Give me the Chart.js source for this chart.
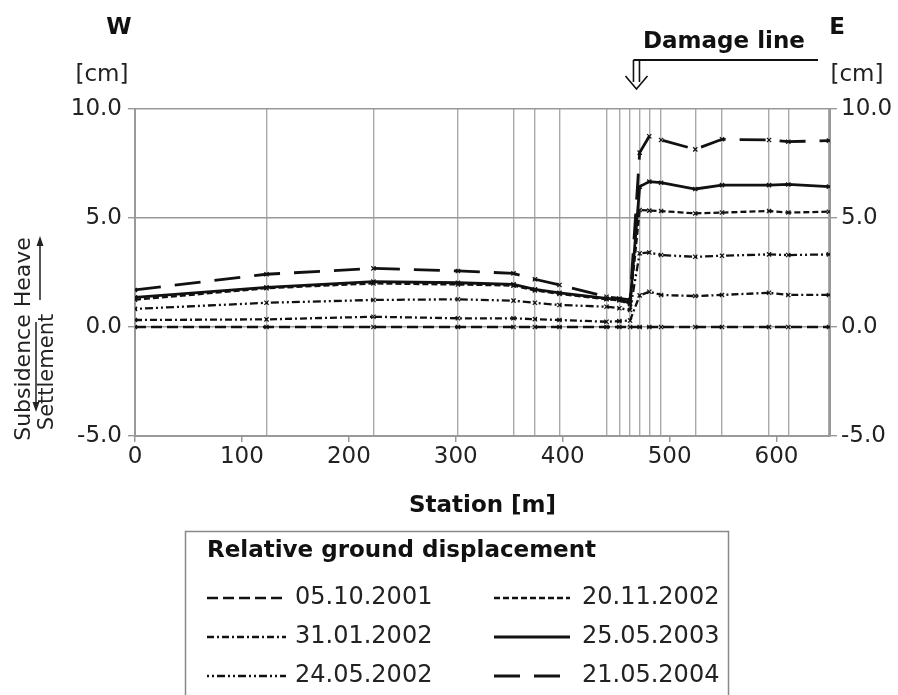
<!DOCTYPE html>
<html>
<head>
<meta charset="utf-8">
<script src="https://cdn.jsdelivr.net/npm/chart.js@4.4.1/dist/chart.umd.min.js"></script>
<style>
  html, body { margin: 0; padding: 0; background: #fff; }
</style>
</head>
<body>
<canvas id="Chart" width="898" height="695"></canvas>
<script>
// measuring stations [m]
const stations = [0, 123, 223, 302, 354, 374, 397, 441, 453, 463, 472, 481, 492, 524, 549, 593, 611, 649];
const dates = ["05.10.2001", "31.01.2002", "24.05.2002", "20.11.2002", "25.05.2003", "21.05.2004"];
const xTickValues = [0, 100, 200, 300, 400, 500, 600];
const yTickValues = [-5, 0, 5, 10];

// relative displacement [cm]
const d20011005 = [0, 0, 0, 0, 0, 0, 0, 0, 0, 0, 0, 0, 0, 0, 0, 0, 0, 0];
const d20020131 = [0.32, 0.35, 0.47, 0.40, 0.40, 0.36, 0.32, 0.24, 0.27, 0.30, 1.45, 1.62, 1.47, 1.42, 1.47, 1.57, 1.47, 1.47];
const d20020524 = [0.83, 1.11, 1.24, 1.27, 1.21, 1.11, 1.01, 0.93, 0.86, 0.78, 3.38, 3.42, 3.30, 3.22, 3.27, 3.33, 3.30, 3.33];
const d20021120 = [1.25, 1.78, 2.00, 1.95, 1.90, 1.68, 1.52, 1.27, 1.22, 1.05, 5.37, 5.34, 5.32, 5.21, 5.25, 5.32, 5.25, 5.29];
const d20030525 = [1.36, 1.82, 2.08, 2.03, 1.96, 1.73, 1.57, 1.31, 1.27, 1.09, 6.44, 6.67, 6.62, 6.33, 6.51, 6.51, 6.54, 6.44];
const d20040521 = [1.70, 2.42, 2.69, 2.57, 2.46, 2.19, 1.93, 1.39, 1.31, 1.24, 8.0, 8.75, 8.58, 8.15, 8.61, 8.58, 8.50, 8.55];

const series = [d20011005, d20020131, d20020524, d20021120, d20030525, d20040521];
const damageStation = 469;

// line styles per date
const dashes = [[11, 5], [7, 3, 2, 3], [2, 3, 2, 3, 8, 3], [6, 3], [], [26, 14]];
const widths = [2.3, 2.3, 2.3, 2.3, 2.8, 2.8];

Chart.defaults.font.family = '"DejaVu Sans", sans-serif';
Chart.defaults.color = "#222";

const FONT = '"DejaVu Sans", sans-serif';

const extras = {
  id: "extras",
  afterDraw(chart) {
    const ctx = chart.ctx;
    const x = chart.scales.x;
    ctx.save();
    ctx.fillStyle = "#111";
    ctx.strokeStyle = "#111";
    ctx.textBaseline = "middle";
    ctx.textAlign = "center";
    ctx.font = "bold 23px " + FONT;
    ctx.fillText("W", 119, 28);
    ctx.fillText("E", 837, 28);
    ctx.fillStyle = "#222";
    ctx.font = "23px " + FONT;
    ctx.fillText("[cm]", 102, 75);
    ctx.fillText("[cm]", 857, 75);

    // damage line marker
    const dx = x.getPixelForValue(damageStation);
    ctx.fillStyle = "#111";
    ctx.font = "bold 23px " + FONT;
    ctx.textAlign = "left";
    ctx.fillText("Damage line", 643, 42);
    ctx.lineWidth = 2;
    ctx.beginPath();
    ctx.moveTo(dx - 3, 60);
    ctx.lineTo(818, 60);
    ctx.stroke();
    ctx.lineWidth = 1.6;
    ctx.beginPath();
    ctx.moveTo(dx - 3, 60); ctx.lineTo(dx - 3, 82);
    ctx.moveTo(dx + 3, 60); ctx.lineTo(dx + 3, 82);
    ctx.moveTo(dx - 11, 76); ctx.lineTo(dx, 89); ctx.lineTo(dx + 11, 76);
    ctx.stroke();

    // y axis caption
    ctx.fillStyle = "#222";
    ctx.font = "22px " + FONT;
    ctx.textAlign = "center";
    ctx.save();
    ctx.translate(24, 339);
    ctx.rotate(-Math.PI / 2);
    ctx.fillText("Subsidence Heave", 0, 0);
    ctx.restore();
    ctx.font = "21px " + FONT;
    ctx.save();
    ctx.translate(48, 372);
    ctx.rotate(-Math.PI / 2);
    ctx.fillText("Settlement", 0, 0);
    ctx.restore();
    ctx.strokeStyle = "#222";
    ctx.lineWidth = 1.5;
    ctx.beginPath();
    ctx.moveTo(40, 300); ctx.lineTo(40, 244);
    ctx.moveTo(36, 322); ctx.lineTo(36, 404);
    ctx.stroke();
    ctx.beginPath();
    ctx.moveTo(40, 236); ctx.lineTo(36.5, 246); ctx.lineTo(43.5, 246); ctx.closePath();
    ctx.moveTo(36, 412); ctx.lineTo(32.5, 402); ctx.lineTo(39.5, 402); ctx.closePath();
    ctx.fill();

    // legend box
    ctx.strokeStyle = "#888";
    ctx.lineWidth = 1.5;
    ctx.strokeRect(185.5, 531.5, 543, 180);
    ctx.fillStyle = "#111";
    ctx.font = "bold 23px " + FONT;
    ctx.textAlign = "left";
    ctx.fillText("Relative ground displacement", 207, 551);
    ctx.font = "24px " + FONT;
    chart.data.datasets.forEach((ds, i) => {
      const col = Math.floor(i / 3), row = i % 3;
      const y = 598 + row * 39;
      const x0 = col ? 494 : 207, x1 = col ? 570 : 286, tx = col ? 582 : 295;
      ctx.strokeStyle = "#111";
      ctx.lineWidth = ds.borderWidth;
      ctx.setLineDash(ds.borderDash);
      ctx.beginPath();
      ctx.moveTo(x0, y); ctx.lineTo(x1, y);
      ctx.stroke();
      ctx.setLineDash([]);
      ctx.fillStyle = "#222";
      ctx.fillText(ds.label, tx, y);
    });
    ctx.restore();
  }
};

const ctx = document.getElementById("Chart").getContext("2d");
const myChart = new Chart(ctx, {
  type: "line",
  data: {
    datasets: dates.map((d, i) => ({
      label: d,
      data: stations.map((s, j) => ({ x: s, y: series[i][j] })),
      xAxisID: "x",
      yAxisID: "y",
      borderColor: "#111",
      backgroundColor: "#111",
      borderWidth: widths[i],
      borderDash: dashes[i],
      tension: 0,
      fill: false,
      pointStyle: "crossRot",
      pointRadius: 3,
      pointBorderWidth: 1.2,
      pointBorderColor: "#111"
    }))
  },
  options: {
    responsive: false,
    animation: false,
    layout: { padding: { top: 109, bottom: 168, left: 0, right: 0 } },
    plugins: { legend: { display: false }, tooltip: { enabled: false } },
    scales: {
      x: {
        type: "linear",
        position: "bottom",
        min: 0,
        max: 650,
        afterBuildTicks(s) { s.ticks = xTickValues.map(v => ({ value: v })); },
        ticks: { padding: 1, font: { size: 23 }, color: "#222", autoSkip: false, maxRotation: 0 },
        grid: { drawOnChartArea: false, tickLength: 6, color: "#999", lineWidth: 1.5 },
        border: { color: "#999", width: 2 },
        title: { display: true, text: "Station [m]", color: "#111", font: { size: 23, weight: "bold" }, padding: { top: 0, bottom: 7 } },
        afterFit(s) { s.height = 91; }
      },
      xg: {
        type: "linear",
        position: "top",
        min: 0,
        max: 650,
        afterBuildTicks(s) { s.ticks = stations.map(v => ({ value: v })); },
        ticks: { display: false },
        grid: { color: "#aaa", lineWidth: 1.4, drawTicks: false },
        border: { display: false },
        afterFit(s) { s.height = 0; }
      },
      y: {
        position: "left",
        min: -5,
        max: 10,
        afterBuildTicks(s) { s.ticks = yTickValues.map(v => ({ value: v })); },
        ticks: { padding: 6, font: { size: 23 }, color: "#222", callback: v => v.toFixed(1) },
        grid: { color: "#999", lineWidth: 1.4, tickLength: 7 },
        border: { color: "#999", width: 2 },
        afterFit(s) { s.width = 135; }
      },
      y2: {
        position: "right",
        min: -5,
        max: 10,
        afterBuildTicks(s) { s.ticks = yTickValues.map(v => ({ value: v })); },
        ticks: { padding: 4, font: { size: 23 }, color: "#222", callback: v => v.toFixed(1) },
        grid: { drawOnChartArea: false, tickLength: 7, color: "#999", lineWidth: 1.4 },
        border: { color: "#999", width: 2 },
        afterFit(s) { s.width = 68; }
      }
    }
  },
  plugins: [extras]
});
</script>
</body>
</html>
